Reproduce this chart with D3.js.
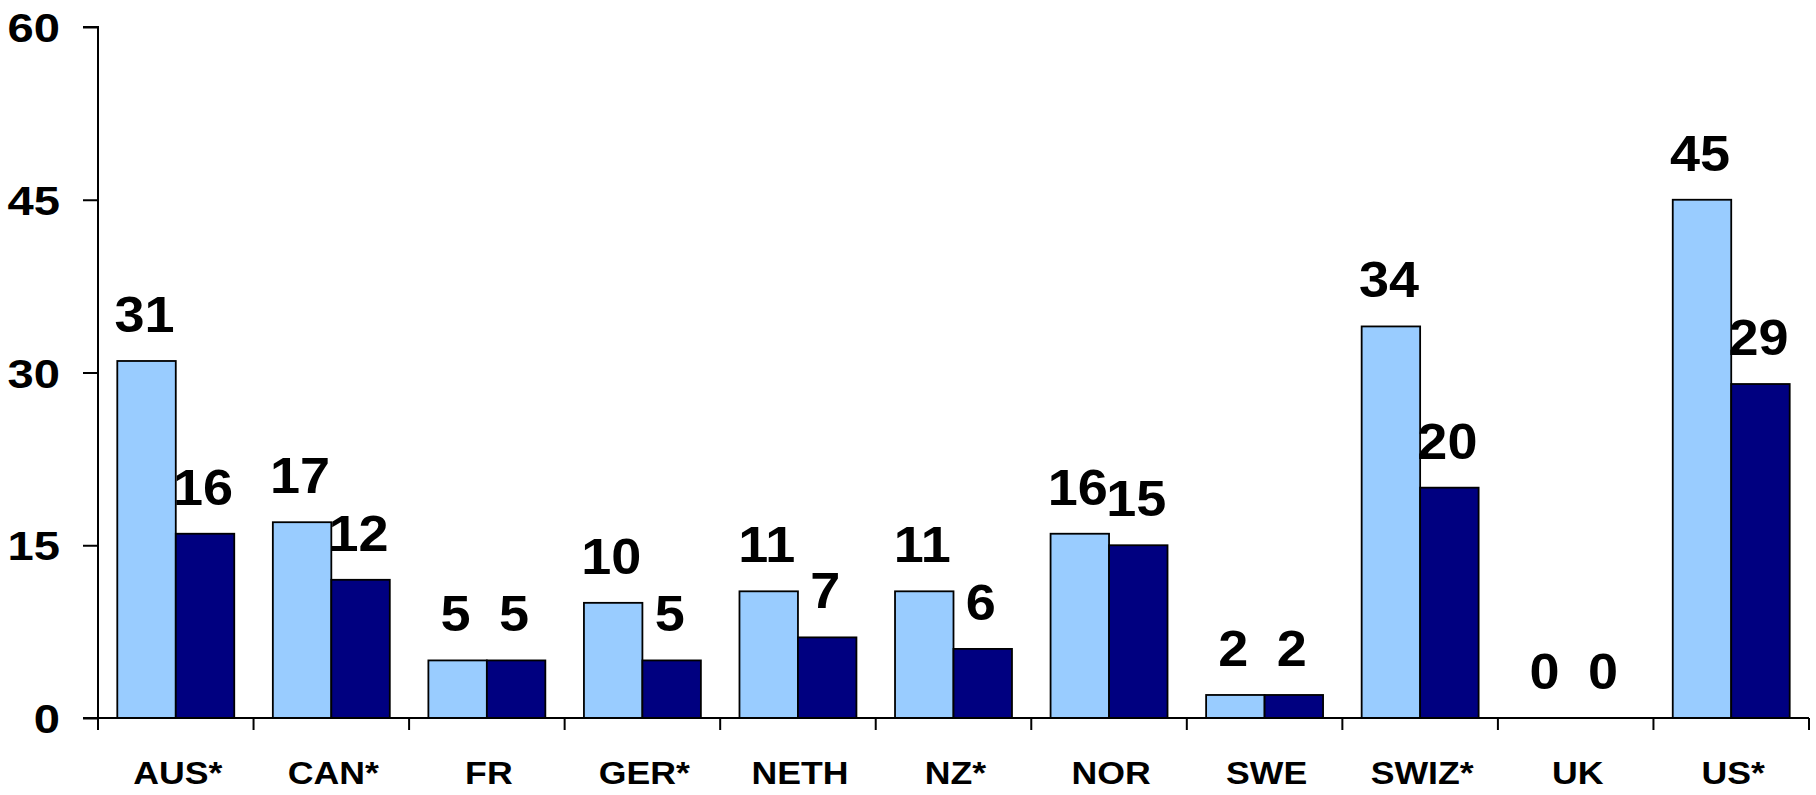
<!DOCTYPE html>
<html>
<head>
<meta charset="utf-8">
<script src="https://cdn.jsdelivr.net/npm/d3@7"></script>
<style>
  html, body { margin: 0; padding: 0; background: #fff; }
  svg { display: block; }
  text { font-family: "Liberation Sans", Arial, sans-serif; font-weight: bold; fill: #000; }
</style>
</head>
<body>
<svg id="chart" width="1816" height="795"></svg>
<script>
const categories = ["AUS*", "CAN*", "FR", "GER*", "NETH", "NZ*", "NOR", "SWE", "SWIZ*", "UK", "US*"];
const seriesNames = ["Series A", "Series B"];
const seriesA = [31, 17, 5, 10, 11, 11, 16, 2, 34, 0, 45];
const seriesB = [16, 12, 5, 5, 7, 6, 15, 2, 20, 0, 29];
const yTicks = [0, 15, 30, 45, 60];
const colors = ["#99CCFF", "#000080"];

(function () {
const svg = d3.select("#chart");
const mLeft = 98, mRight = 1809, mTop = 27, mBottom = 718;
const stretch = 1.15, labelStretch = 1.08;

const x0 = d3.scaleBand().domain(categories).range([mLeft, mRight]).padding(0);
const x1 = d3.scaleBand().domain(seriesNames).range([0, x0.bandwidth()]).paddingInner(0).paddingOuter(0.33);
const y = d3.scaleLinear().domain([0, 60]).range([mBottom, mTop]);

const data = categories.map((c, i) => ({ cat: c, vals: [seriesA[i], seriesB[i]] }));

// Bars
const groups = svg.append("g").selectAll("g").data(data).join("g")
  .attr("transform", d => `translate(${x0(d.cat)},0)`);

groups.selectAll("rect")
  .data(d => d.vals.map((v, j) => ({ v, s: seriesNames[j], j })).filter(d => d.v > 0))
  .join("rect")
  .attr("x", d => x1(d.s))
  .attr("y", d => y(d.v))
  .attr("width", x1.bandwidth())
  .attr("height", d => y(0) - y(d.v))
  .attr("fill", d => colors[d.j])
  .attr("stroke", "#000")
  .attr("stroke-width", 1.8);

// Data labels
groups.selectAll("text").data(d => d.vals.map((v, j) => ({ v, s: seriesNames[j] })))
  .join("text")
  .attr("transform", d => `translate(${x1(d.s) + x1.bandwidth() / 2 - 2},${y(d.v) - 29}) scale(${labelStretch},1)`)
  .attr("text-anchor", "middle")
  .style("font-size", "50px")
  .text(d => d.v);

// Y axis
const yAxis = d3.axisLeft(y).tickValues(yTicks).tickSize(15).tickFormat("");
const yg = svg.append("g").attr("transform", `translate(${mLeft},0)`).call(yAxis);
yg.select(".domain").attr("d", `M-15,${mTop}H0V${mBottom}`).attr("stroke", "#000").attr("stroke-width", 2);
yg.selectAll(".tick line").attr("stroke", "#000").attr("stroke-width", 2);

svg.append("g").selectAll("text").data(yTicks).join("text")
  .attr("transform", d => `translate(60,${y(d) + 15}) scale(${stretch},1)`)
  .attr("text-anchor", "end")
  .style("font-size", "41px")
  .text(d => d);

// X axis
const xAxis = d3.axisBottom(x0).tickSize(0).tickFormat("");
const xg = svg.append("g").attr("transform", `translate(0,${mBottom})`).call(xAxis);
xg.select(".domain").attr("d", `M${mLeft - 15},0H${mRight}`).attr("stroke", "#000").attr("stroke-width", 2);
xg.selectAll(".tick").remove();

const boundaries = categories.map(c => x0(c)).concat([mRight]);
svg.append("g").selectAll("line").data(boundaries).join("line")
  .attr("x1", d => d).attr("x2", d => d)
  .attr("y1", mBottom).attr("y2", mBottom + 12)
  .attr("stroke", "#000").attr("stroke-width", 2);

svg.append("g").selectAll("text").data(categories).join("text")
  .attr("transform", c => `translate(${x0(c) + x0.bandwidth() / 2 + 2},784) scale(${stretch},1)`)
  .attr("text-anchor", "middle")
  .style("font-size", "31px")
  .text(c => c);
})();
</script>
</body>
</html>
